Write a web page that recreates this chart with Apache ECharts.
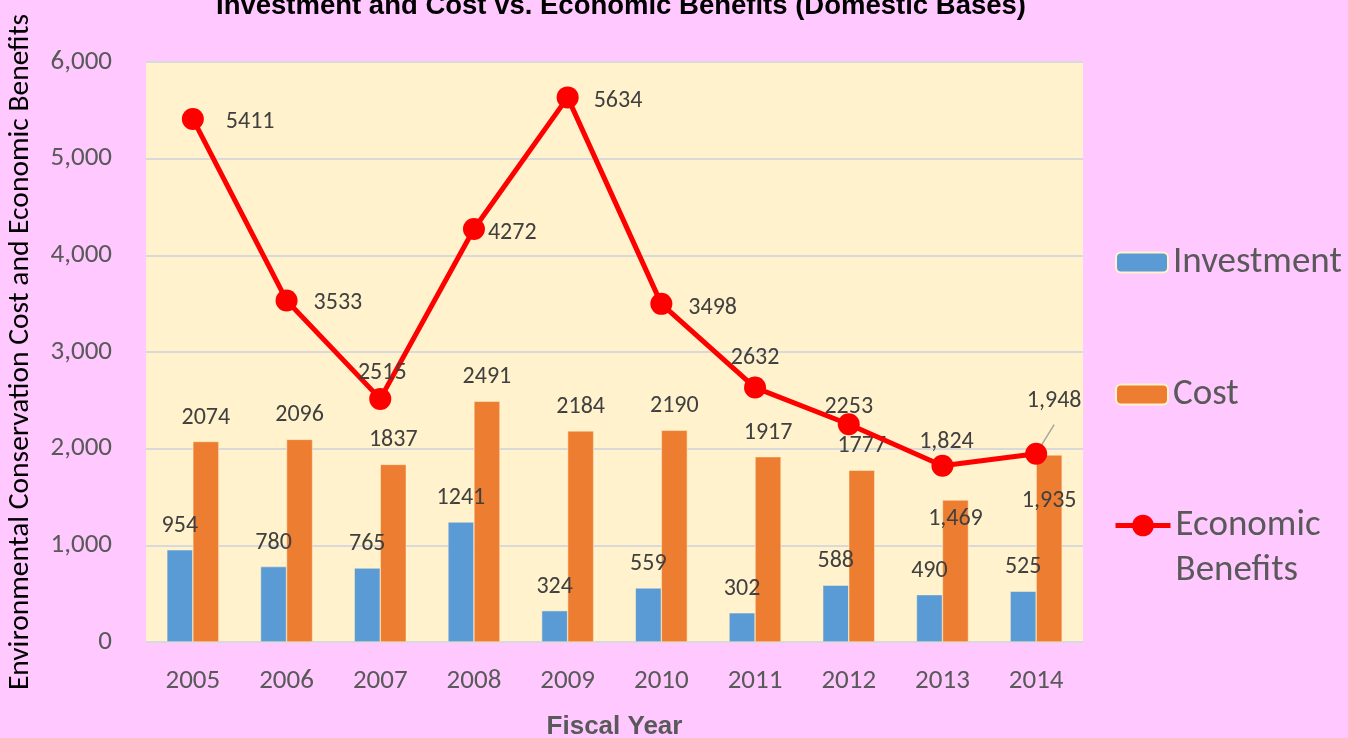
<!DOCTYPE html>
<html lang="en">
<head>
    <meta charset="UTF-8">
    <title>Investment and Cost vs. Economic Benefits</title>
    <script src="https://cdn.jsdelivr.net/npm/echarts@6/dist/echarts.min.js"></script>
    <style>
        html, body { margin: 0; padding: 0; background: #ffc9ff; }
        #chart { width: 1348px; height: 738px; }
    </style>
</head>
<body>
<div id="chart"></div>
<script>
    var years = ['2005', '2006', '2007', '2008', '2009', '2010', '2011', '2012', '2013', '2014'];
    var investment = [954, 780, 765, 1241, 324, 559, 302, 588, 490, 525];
    var cost = [2074, 2096, 1837, 2491, 2184, 2190, 1917, 1777, 1469, 1935];
    var benefits = [5411, 3533, 2515, 4272, 5634, 3498, 2632, 2253, 1824, 1948];
    var yTicks = [0, 1000, 2000, 3000, 4000, 5000, 6000];

    var labelFont = 'Calibri, Carlito, "Open Sans", sans-serif';
    var gray = '#595959';

    // the last two years are printed with thousands separators
    function fmt(v, i) {
        return i >= 8 ? v.toLocaleString('en-US') : String(v);
    }

    // label placement for the red line, per year
    var lineLabel = [
        {position: 'right', distance: 22, offset: [0, 3]},
        {position: 'right', distance: 16, offset: [0, 3]},
        {position: 'top', distance: 5, offset: [2, 2]},
        {position: 'right', distance: 3, offset: [0, 4]},
        {position: 'right', distance: 15, offset: [0, 4]},
        {position: 'right', distance: 16, offset: [0, 4]},
        {position: 'top', distance: 9, offset: [0, 2]},
        {position: 'top', distance: 0, offset: [0, 6]},
        {position: 'top', distance: 3, offset: [4, 2]},
        {position: 'top', distance: 33, offset: [18, 3]}
    ];

    var costData = cost.map(function (v, i) {
        var d = {value: v};
        if (i == 8) d.label = {position: 'insideTop', distance: 7};
        if (i == 9) d.label = {position: 'insideTop', distance: 34};
        return d;
    });
    var lineData = benefits.map(function (v, i) {
        var d = {value: v, label: lineLabel[i]};
        if (i == 6 || i == 9) d.labelLine = {show: true, lineStyle: {color: '#a6a6a6', width: 1.5}};
        return d;
    });

    var legendText = {fontSize: 37, color: gray, lineHeight: 45, fontFamily: labelFont};

    var option = {
        backgroundColor: '#ffc9ff',
        animation: false,
        textStyle: {fontFamily: labelFont},
        title: {
            text: 'Investment and Cost vs. Economic Benefits (Domestic Bases)',
            left: 616,
            textAlign: 'center',
            top: -13,
            textStyle: {
                fontFamily: '"Liberation Sans", Arial, sans-serif',
                fontWeight: 'bold',
                fontSize: 27.5,
                color: '#000'
            }
        },
        legend: [
            {
                data: ['Investment'],
                left: 1115,
                top: 240,
                padding: 0,
                itemWidth: 52,
                itemHeight: 20,
                textStyle: legendText
            },
            {
                data: ['Cost'],
                left: 1115,
                top: 372,
                padding: 0,
                itemWidth: 52,
                itemHeight: 20,
                textStyle: legendText
            },
            {
                // leading blank line keeps the icon level with "Economic"
                data: ['Economic Benefits'],
                left: 1113,
                top: 458,
                padding: 0,
                itemWidth: 55,
                itemHeight: 27,
                lineStyle: {width: 5},
                formatter: function () { return '\nEconomic\nBenefits'; },
                textStyle: legendText
            }
        ],
        grid: {
            left: 146,
            right: 265,
            top: 62,
            bottom: 96,
            outerBoundsMode: 'none',
            show: true,
            backgroundColor: '#fff2cc',
            borderWidth: 0
        },
        xAxis: {
            type: 'category',
            data: years,
            name: 'Fiscal Year',
            nameLocation: 'middle',
            nameGap: 72,
            nameTextStyle: {fontSize: 26, fontWeight: 'bold', color: gray, fontFamily: '"Liberation Sans", Arial, sans-serif'},
            axisLine: {show: true, lineStyle: {color: '#d9d9d9', width: 1.5}},
            axisTick: {show: false},
            axisLabel: {fontSize: 27, color: gray, margin: 26, fontFamily: labelFont}
        },
        yAxis: {
            type: 'value',
            min: yTicks[0],
            max: yTicks[yTicks.length - 1],
            interval: 1000,
            name: 'Environmental Conservation Cost and Economic Benefits',
            nameLocation: 'middle',
            nameGap: 110,
            nameTextStyle: {fontSize: 29.5, color: '#000', fontFamily: labelFont},
            axisLine: {show: false},
            axisTick: {show: false},
            axisLabel: {
                fontSize: 27,
                color: gray,
                margin: 34,
                formatter: function (v) { return v.toLocaleString('en-US'); }
            },
            splitLine: {lineStyle: {color: '#d9d9d9', width: 2}}
        },
        series: [
            {
                name: 'Investment',
                type: 'bar',
                data: investment,
                barWidth: 26,
                barGap: '0%',
                itemStyle: {color: '#5b9bd5', borderColor: '#fff2cc', borderWidth: 0.5},
                label: {show: true, position: 'top', distance: 12, fontSize: 24, color: '#404040', fontFamily: labelFont}
            },
            {
                name: 'Cost',
                type: 'bar',
                data: costData,
                barWidth: 26,
                itemStyle: {color: '#ed7d31', borderColor: '#fff2cc', borderWidth: 0.5},
                label: {
                    show: true, position: 'top', distance: 12, fontSize: 24, color: '#404040', fontFamily: labelFont,
                    formatter: function (p) { return fmt(p.value, p.dataIndex); }
                }
            },
            {
                name: 'Economic Benefits',
                type: 'line',
                data: lineData,
                symbol: 'circle',
                symbolSize: 22,
                lineStyle: {color: '#ff0000', width: 5},
                itemStyle: {color: '#ff0000'},
                label: {
                    show: true, fontSize: 24, color: '#404040', fontFamily: labelFont,
                    formatter: function (p) { return fmt(p.value, p.dataIndex); }
                },
                z: 5
            }
        ]
    };

    echarts.init(document.getElementById('chart')).setOption(option);
</script>
</body>
</html>
